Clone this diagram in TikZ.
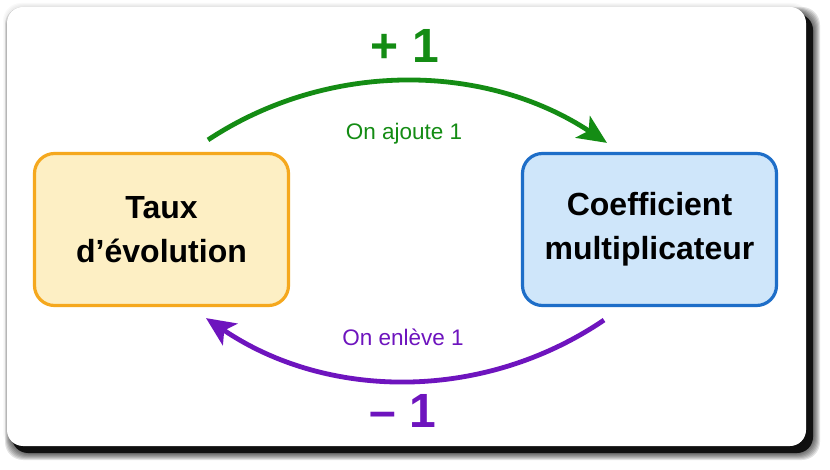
\documentclass[tikz,border=0pt]{standalone}
\usepackage{fontspec}
\setmainfont{Liberation Sans}
\usetikzlibrary{arrows.meta,calc}
\definecolor{boxorange}{HTML}{F5A81E}
\definecolor{boxyellow}{HTML}{FDEFC4}
\definecolor{boxblue}{HTML}{1E6EC8}
\definecolor{boxlblue}{HTML}{CFE6FA}
\definecolor{arrgreen}{HTML}{148C14}
\definecolor{arrpurple}{HTML}{6E14BE}
\begin{document}
\begin{tikzpicture}[x=1pt,y=-1pt,
  conceptbox/.style={rounded corners=20pt,line width=3.2pt,minimum width=254pt,
    minimum height=152pt,inner sep=0pt,align=center,
    font=\fontsize{32}{44}\selectfont\bfseries},
  flowarrow/.style={line width=4.8pt,-{Stealth[length=29pt,width=26pt,inset=7pt]}},
  smalllabel/.style={font=\fontsize{22.5}{26}\selectfont},
  biglabel/.style={font=\fontsize{48}{52}\selectfont\bfseries}]
\useasboundingbox (0,0) rectangle (830,470);
\fill[white] (0,0) rectangle (830,470);
% faint halo around card
\foreach \d in {1,2,3,4}{
  \fill[black,opacity=0.025,rounded corners=18pt] (7-\d,7-\d) rectangle (806+\d,446+\d);}
% dark shadow bottom-right
\foreach \d in {1,2,3,4,5,6,7}{
  \fill[black,opacity=0.11,rounded corners=18pt] (12-\d,14-\d) rectangle (813+\d,453+\d);}
\fill[black,opacity=0.85,rounded corners=16pt] (12,14) rectangle (813,453);
% card
\fill[white,rounded corners=16pt] (7,7) rectangle (806,446);
% boxes
\node[conceptbox,draw=boxorange,fill=boxyellow] (L) at (161.5,229.5) {Taux\\d’évolution};
\node[conceptbox,draw=boxblue,fill=boxlblue] (R) at (649.5,229.5) {Coefficient\\multiplicateur};
% arrow end points
\coordinate (gs) at ($(L.north)+(46.5,-12)$);
\coordinate (ge) at ($(R.north)+(-42.5,-9)$);
\coordinate (ps) at ($(R.south)+(-45.5,13)$);
\coordinate (pe) at ($(L.south)+(44.5,11)$);
\draw[flowarrow,arrgreen] (gs) .. controls ($(gs)+(121,-80)$) and ($(ge)+(-121,-80)$) .. (ge);
\draw[flowarrow,arrpurple] (ps) .. controls ($(ps)+(-121,82)$) and ($(pe)+(121,82)$) .. (pe);
% labels
\node[biglabel,text=arrgreen] (plus) at (405,46) {+ 1};
\node[smalllabel,text=arrgreen] (ajoute) at (404,134) {On ajoute 1};
\node[smalllabel,text=arrpurple] (enleve) at (403,337) {On enlève 1};
\node[biglabel,text=arrpurple] (minus) at (403,411) {– 1};
\end{tikzpicture}
\end{document}
